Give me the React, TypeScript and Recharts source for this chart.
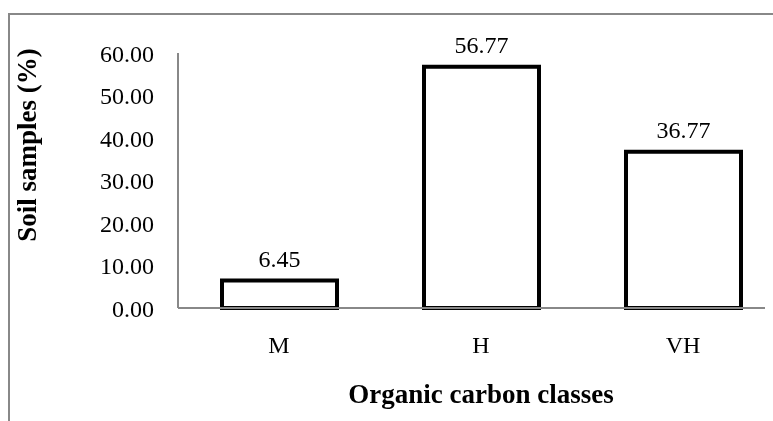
import React from 'react';
import { BarChart, Bar, XAxis, YAxis, LabelList } from 'recharts';

const classes = ['M', 'H', 'VH'];
const samplesPct = [6.45, 56.77, 36.77];
const yTicks = [0, 10, 20, 30, 40, 50, 60];

const FONT = '"Liberation Serif", "Times New Roman", serif';

const chartData = classes.map((c, i) => ({ name: c, value: samplesPct[i] }));

const YTitle = () => (
  <text
    x={28}
    y={137}
    transform="rotate(-90, 28, 137)"
    textAnchor="middle"
    fontFamily={FONT}
    fontWeight="bold"
    fontSize={27}
    fill="#000"
  >
    Soil samples (%)
  </text>
);

const XTitle = (props: any) => {
  const vb = props.viewBox || { x: 0, width: 0, y: 0 };
  const cx = vb.x + vb.width / 2;
  return (
    <text
      x={cx}
      y={vb.y + 95}
      textAnchor="middle"
      fontFamily={FONT}
      fontWeight="bold"
      fontSize={27}
      fill="#000"
    >
      Organic carbon classes
    </text>
  );
};

export default function App() {
  return (
    <div
      style={{
        position: 'relative',
        width: 765,
        height: 413,
        overflow: 'hidden',
        marginBottom: -8,
        background: '#fff',
      }}
    >
      {/* cropped outer frame, runs off the page on right and bottom */}
      <div
        style={{
          position: 'fixed',
          top: 13,
          left: 8,
          width: 2000,
          height: 2000,
          borderTop: '2px solid #888',
          borderLeft: '2px solid #888',
        }}
      />
      <div style={{ position: 'absolute', top: 0, left: 0 }}>
        <BarChart
          width={776}
          height={405}
          data={chartData}
          margin={{ top: 45, right: 0, left: 0, bottom: 45 }}
          barSize={115}
        >
          <XAxis
            dataKey="name"
            height={60}
            axisLine={{ stroke: '#888', strokeWidth: 2 }}
            tickLine={false}
            tickSize={0}
            tickMargin={28}
            tick={{ fontFamily: FONT, fontSize: 24, fill: '#000' }}
            label={<XTitle />}
          />
          <YAxis
            width={170}
            domain={[0, 60]}
            ticks={yTicks}
            interval={0}
            axisLine={{ stroke: '#888', strokeWidth: 2 }}
            tickLine={false}
            tickSize={0}
            tickMargin={24}
            tickFormatter={(v: number) => v.toFixed(2)}
            tick={{ fontFamily: FONT, fontSize: 24, fill: '#000' }}
            label={<YTitle />}
          />
          <Bar
            dataKey="value"
            fill="#fff"
            stroke="#000"
            strokeWidth={4}
            isAnimationActive={false}
          >
            <LabelList
              dataKey="value"
              position="top"
              offset={14}
              formatter={(v: any) => Number(v).toFixed(2)}
              fontFamily={FONT}
              fontSize={24}
              fill="#000"
            />
          </Bar>
        </BarChart>
      </div>
    </div>
  );
}
